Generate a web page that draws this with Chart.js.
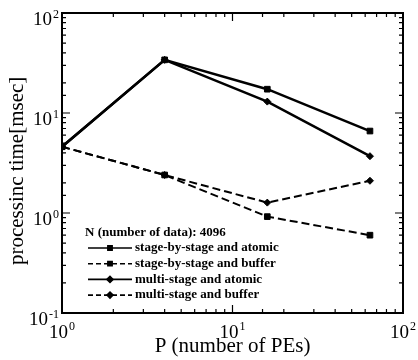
<!DOCTYPE html>
<html>
<head>
<meta charset="utf-8">
<script src="https://cdn.jsdelivr.net/npm/chart.js@4/dist/chart.umd.min.js"></script>
<style>
  html, body { margin: 0; padding: 0; background: #fff; }
  #wrap { width: 418px; height: 360px; }
</style>
</head>
<body>
<div id="wrap"><canvas id="chart"></canvas></div>
<script>
const peCounts = [1, 4, 16, 64];
const stageAtomic = [4.6, 34, 17.3, 6.6];
const stageBuffer = [4.6, 2.4, 0.92, 0.6];
const multiAtomic = [4.6, 34, 13, 3.7];
const multiBuffer = [4.6, 2.4, 1.27, 2.1];
const legendTitle = 'N (number of data): 4096';
const xDecades = [0, 1, 2];
const yDecades = [-1, 0, 1, 2];

const serif = '"Liberation Serif", "DejaVu Serif", serif';

const pts = vals => vals.map((v, i) => ({x: peCounts[i], y: v}));

const series = (label, vals, dashed, style) => ({
	label,
	data: pts(vals),
	borderColor: '#000',
	backgroundColor: '#000',
	borderWidth: dashed ? 2 : 2.5,
	borderDash: dashed ? [8, 4] : [],
	pointStyle: style,
	pointRadius: style === 'rect' ? 4 : 3.5,
	pointBorderWidth: 1,
	tension: 0,
	fill: false
});

// inward ticks, frame, power-of-ten labels
const framePlugin = {
	id: 'frame',
	afterDraw(chart) {
		const {ctx, chartArea: a, scales} = chart;
		ctx.save();
		ctx.strokeStyle = '#000';
		ctx.lineWidth = 1.2;
		const isMajor = v => Math.abs(Math.log10(v) - Math.round(Math.log10(v))) < 1e-9;
		ctx.beginPath();
		scales.x.ticks.forEach(t => {
			const px = scales.x.getPixelForValue(t.value);
			const len = isMajor(t.value) ? 8 : 4;
			ctx.moveTo(px, a.bottom); ctx.lineTo(px, a.bottom - len);
			ctx.moveTo(px, a.top); ctx.lineTo(px, a.top + len);
		});
		scales.y.ticks.forEach(t => {
			const py = scales.y.getPixelForValue(t.value);
			const len = isMajor(t.value) ? 8 : 4;
			ctx.moveTo(a.left, py); ctx.lineTo(a.left + len, py);
			ctx.moveTo(a.right, py); ctx.lineTo(a.right - len, py);
		});
		ctx.stroke();

		ctx.lineWidth = 2;
		ctx.strokeRect(a.left, a.top, a.right - a.left, a.bottom - a.top);

		ctx.fillStyle = '#000';
		ctx.textBaseline = 'alphabetic';
		const big = '19px ' + serif, small = '12px ' + serif;
		xDecades.forEach(e => {
			const px = scales.x.getPixelForValue(Math.pow(10, e));
			ctx.font = big; const w1 = ctx.measureText('10').width;
			ctx.font = small; const w2 = ctx.measureText(String(e)).width;
			const x0 = px - (w1 + w2 + 1) / 2;
			ctx.font = big; ctx.fillText('10', x0, 338);
			ctx.font = small; ctx.fillText(String(e), x0 + w1 + 1, 330);
		});
		yDecades.forEach(e => {
			const py = scales.y.getPixelForValue(Math.pow(10, e));
			const exp = e < 0 ? '-' + Math.abs(e) : String(e);
			ctx.font = small; const w2 = ctx.measureText(exp).width;
			ctx.font = big; const w1 = ctx.measureText('10').width;
			const right = 59;
			ctx.fillText('10', right - w2 - 1 - w1, py + 12);
			ctx.font = small; ctx.fillText(exp, right - w2, py + 5);
		});
		ctx.restore();
	}
};

// legend drawn inside the plot area
const innerLegend = {
	id: 'innerLegend',
	afterDatasetsDraw(chart) {
		const {ctx} = chart;
		ctx.save();
		ctx.fillStyle = '#000';
		ctx.strokeStyle = '#000';
		ctx.font = 'bold 13px ' + serif;
		ctx.textBaseline = 'middle';
		ctx.fillText(legendTitle, 85, 233);
		chart.data.datasets.forEach((ds, i) => {
			const y = 248 + i * 15.7;
			ctx.lineWidth = 1.6;
			ctx.setLineDash(ds.borderDash.length ? [5, 3] : []);
			ctx.beginPath();
			ctx.moveTo(88, y); ctx.lineTo(132, y);
			ctx.stroke();
			ctx.setLineDash([]);
			Chart.helpers.drawPoint(ctx, {pointStyle: ds.pointStyle, radius: 3, borderWidth: 1}, 110, y);
			ctx.fill();
			ctx.fillText(ds.label, 135, y);
		});
		ctx.restore();
	}
};

new Chart(document.getElementById('chart'), {
	type: 'line',
	data: {
		datasets: [
			series('stage-by-stage and atomic', stageAtomic, false, 'rect'),
			series('stage-by-stage and buffer', stageBuffer, true, 'rect'),
			series('multi-stage and atomic', multiAtomic, false, 'rectRot'),
			series('multi-stage and buffer', multiBuffer, true, 'rectRot')
		]
	},
	options: {
		responsive: true,
		maintainAspectRatio: false,
		animation: false,
		layout: {padding: {top: 13, right: 15, left: 0, bottom: 0}},
		plugins: {legend: {display: false}, tooltip: {enabled: false}},
		scales: {
			x: {
				type: 'logarithmic',
				min: 1,
				max: 100,
				grid: {display: false},
				border: {display: false},
				ticks: {display: false},
				title: {
					display: true,
					text: 'P (number of PEs)',
					color: '#000',
					font: {family: serif, size: 21, lineHeight: 1.2},
					padding: {top: 0, bottom: 1}
				},
				afterFit: s => { s.height = 47; s.paddingLeft = 0; s.paddingRight = 0; }
			},
			y: {
				type: 'logarithmic',
				min: 0.1,
				max: 100,
				grid: {display: false},
				border: {display: false},
				ticks: {display: false},
				title: {
					display: true,
					// trailing spaces nudge the rotated title down a little
					text: 'processinc time[msec]   ',
					color: '#000',
					font: {family: serif, size: 21, lineHeight: 1.2},
					padding: {top: 5, bottom: 0}
				},
				afterFit: s => { s.width = 62; s.paddingTop = 0; s.paddingBottom = 0; }
			}
		}
	},
	plugins: [framePlugin, innerLegend]
});
</script>
</body>
</html>
